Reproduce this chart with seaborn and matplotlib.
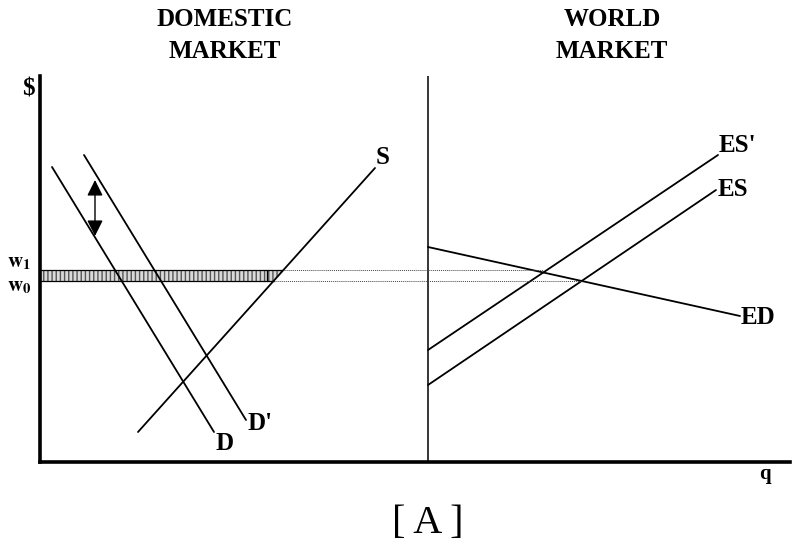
import numpy as np
import pandas as pd
import matplotlib
matplotlib.use("Agg")
import matplotlib.pyplot as plt
import seaborn as sns

# ---- data (schematic units: q along x, $ along y) ----
curve_names = ["D", "D'", "S", "ED", "ES'", "ES"]
curve_x0 = [12, 44, 98, 388, 388, 388]
curve_y0 = [295, 307, 30, 215, 112, 77]
curve_x1 = [174, 206, 335, 700, 678, 676]
curve_y1 = [30, 42, 294, 146, 307, 272]
w_levels = [192, 181]          # w1, w0
w_labels = ["w1", "w0"]
divider_q = 388
bar_right_q = 227
shift_arrow_q = 55
shift_arrow_y = [282, 226]

sns.set_theme(style="white")
plt.rcParams['font.family'] = ['Liberation Serif', 'DejaVu Serif']
plt.rcParams['mathtext.fontset'] = 'stix'
plt.rcParams['text.color'] = 'black'

fig = plt.figure(figsize=(7.96, 5.54), dpi=100)
ax = fig.add_axes([40/796, (554-462)/554, 750/796, 386/554])
ax.set_xlim(0, 750)
ax.set_ylim(0, 386)
for s in ["top", "right"]:
    ax.spines[s].set_visible(False)
for s in ["left", "bottom"]:
    ax.spines[s].set_color("black")
    ax.spines[s].set_linewidth(2.6)
ax.set_xticks([])
ax.set_yticks([])
ax.patch.set_alpha(0)

lw = 1.3
def line_of(name):
    i = curve_names.index(name)
    return (curve_x0[i], curve_y0[i]), (curve_x1[i], curve_y1[i])

for i, n in enumerate(curve_names):
    df = pd.DataFrame({"q": [curve_x0[i], curve_x1[i]], "p": [curve_y0[i], curve_y1[i]]})
    sns.lineplot(data=df, x="q", y="p", color="black", lw=lw, ax=ax, sort=False,
                 estimator=None)

# divider
sns.lineplot(x=[divider_q, divider_q], y=[0, 387], color="black", lw=1.1, ax=ax,
             sort=False, estimator=None)
ax.set_xlabel("")
ax.set_ylabel("")

def x_at_y(name, y):
    (xa, ya), (xb, yb) = line_of(name)
    return xa + (y - ya) * (xb - xa) / (yb - ya)

def intersect(n1, n2):
    (a1, b1), (a2, b2) = line_of(n1)
    (c1, d1), (c2, d2) = line_of(n2)
    m1 = (b2 - b1) / (a2 - a1); m2 = (d2 - d1) / (c2 - c1)
    x = (d1 - b1 + m1 * a1 - m2 * c1) / (m1 - m2)
    return x

w1, w0 = w_levels
# hatched bar
xs_top = x_at_y("S", w1)
xs_bot = x_at_y("S", w0)
poly_x = [0, xs_top, xs_bot, 0]
poly_y = [w1, w1, w0, w0]
ax.fill(poly_x, poly_y, facecolor="#d9d9d9", edgecolor="#555555", hatch="||||", lw=0)
ax.plot([0, xs_top], [w1, w1], color="black", lw=0.9)
ax.plot([0, xs_bot], [w0, w0], color="black", lw=0.9)
ax.plot([bar_right_q, bar_right_q], [w0, w1], color="black", lw=0.9)

# dotted lines
x_end1 = intersect("ED", "ES'")
x_end0 = intersect("ED", "ES")
ax.plot([xs_top, x_end1], [w1, w1], color="#444444", lw=0.7, ls=(0, (1, 1)))
ax.plot([xs_bot, x_end0], [w0, w0], color="#444444", lw=0.7, ls=(0, (1, 1)))

# double-headed arrow
ax.annotate("", xy=(shift_arrow_q, shift_arrow_y[0]), xytext=(shift_arrow_q, shift_arrow_y[1]),
            arrowprops=dict(arrowstyle="<|-|>", color="black", lw=1.0, mutation_scale=24,
                            shrinkA=0, shrinkB=0))

# curve labels
lab_kw = dict(fontsize=18, fontweight="bold", color="black", family=['Liberation Serif'])
ax.text(336, 304, "S", ha="left", va="center", **lab_kw)
ax.text(176, 19, "D", ha="left", va="center", **lab_kw)
ax.text(207, 39, "D'", ha="left", va="center", **lab_kw)
ax.text(701, 144, "ED", ha="left", va="center", **lab_kw)
ax.text(679, 317, "ES'", ha="left", va="center", **lab_kw)
ax.text(678, 272, "ES", ha="left", va="center", **lab_kw)

# figure-level text
fig.text(225/796, 1 - 20/554, "DOMESTIC", ha="center", va="center", fontsize=18, fontweight="bold")
fig.text(225/796, 1 - 51/554, "MARKET", ha="center", va="center", fontsize=18, fontweight="bold")
fig.text(612/796, 1 - 20/554, "WORLD", ha="center", va="center", fontsize=18, fontweight="bold")
fig.text(612/796, 1 - 51/554, "MARKET", ha="center", va="center", fontsize=18, fontweight="bold")
fig.text(28/796, 1 - 89/554, "$", ha="center", va="center", fontsize=18, fontweight="bold")
fig.text(765/796, 1 - 474/554, "q", ha="center", va="center", fontsize=15, fontweight="bold")
fig.text(428/796, 1 - 524/554, "[ A ]", ha="center", va="center", fontsize=29)
fig.text(19/796, 1 - 263/554, r"$\mathbf{w}_{\mathbf{1}}$", ha="center", va="center", fontsize=15)
fig.text(19/796, 1 - 287/554, r"$\mathbf{w}_{\mathbf{0}}$", ha="center", va="center", fontsize=15)

fig.savefig("out.png", dpi=100, facecolor="white")
